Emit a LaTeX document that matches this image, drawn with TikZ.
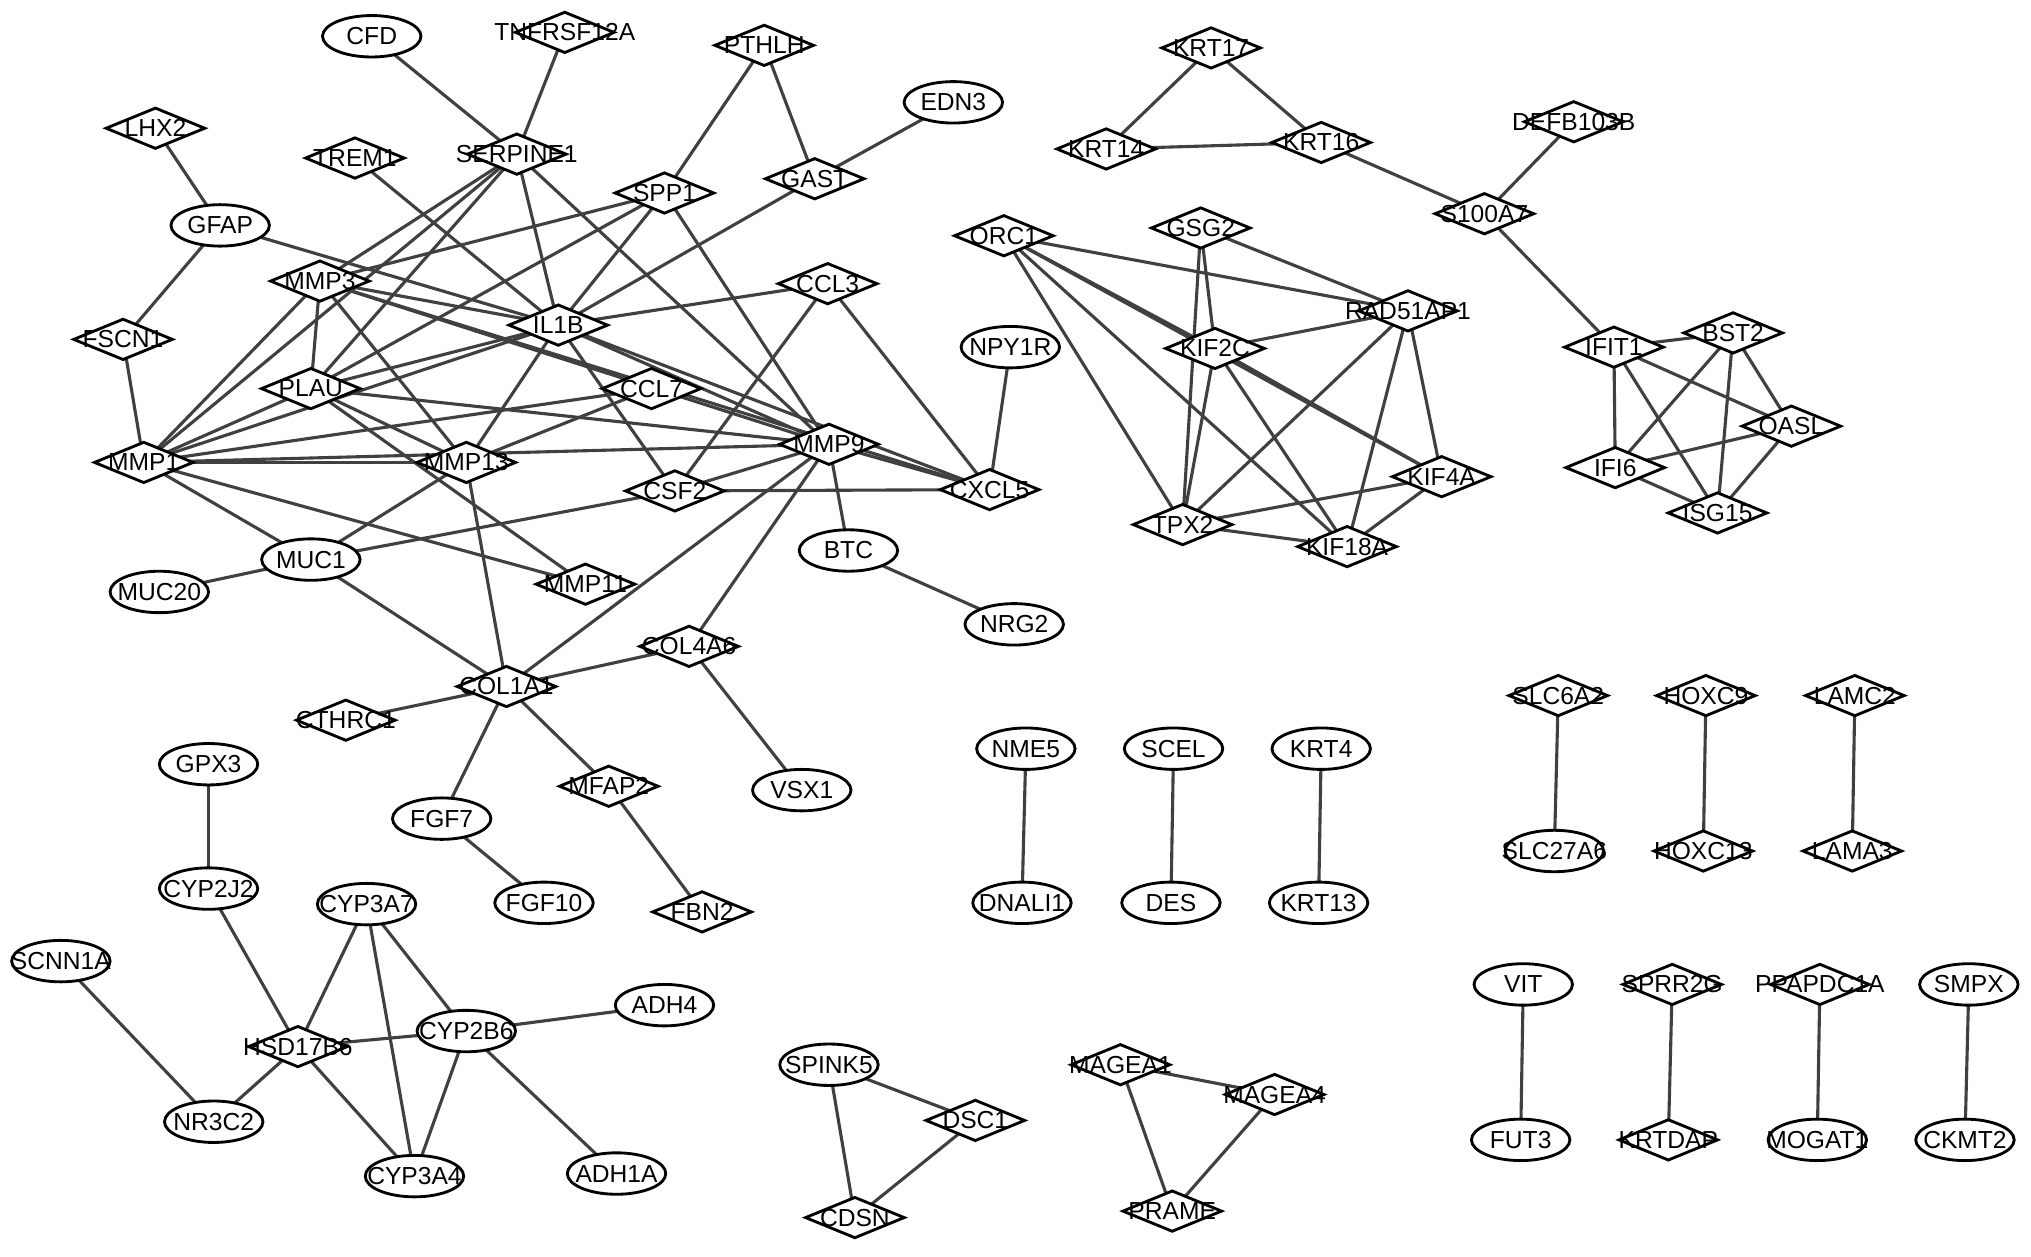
\documentclass[tikz,border=0pt]{standalone}
\usepackage{fontspec}
\setmainfont{Liberation Sans}
\usetikzlibrary{shapes.geometric}
\definecolor{edgegray}{HTML}{404040}
\pgfdeclarelayer{bg}
\pgfsetlayers{bg,main}
\begin{document}
\begin{tikzpicture}[x=1pt,y=-1pt,
  dia/.style={draw=black, fill=white, line width=2.2pt, shape=diamond, inner sep=0pt, minimum width=77pt, minimum height=32pt},
  ell/.style={draw=black, fill=white, line width=2.2pt, shape=ellipse, inner sep=0pt, minimum width=76pt, minimum height=32pt},
  every label/.style={font=\fontsize{19}{21}\selectfont, inner sep=0pt, text=black},
  edge/.style={draw=edgegray, line width=2.4pt}]
\useasboundingbox (0,0) rectangle (1568,970);
% diamonds
\foreach \n/\x/\y in {TNFRSF12A/436/25, PTHLH/590/35, LHX2/120/99, TREM1/274/122, SERPINE1/399/119,
  SPP1/513/149, GAST/629/138, MMP3/247/217, CCL3/639/219, IL1B/431/251, FSCN1/95/262, PLAU/240/300,
  CCL7/503/300, MMP1/111/357, MMP13/360/357, MMP9/640/343, CSF2/521/379, CXCL5/764/378, MMP11/452/451,
  COL4A6/532/499, COL1A1/391/530, CTHRC1/267/556, MFAP2/470/607, FBN2/542/704, HSD17B6/230/808,
  KRT17/935/37, KRT14/854/115, KRT16/1020/110, DEFB103B/1215/94, S100A7/1146/165, ORC1/775/182,
  GSG2/927/176, RAD51AP1/1087/240, KIF2C/938/269, IFIT1/1246/268, BST2/1338/257, OASL/1383/329,
  IFI6/1247/361, ISG15/1326/396, KIF4A/1113/368, TPX2/913/405, KIF18A/1040/422, SLC6A2/1203/537,
  HOXC9/1317/537, LAMC2/1432/537, HOXC13/1315/657, LAMA3/1430/657, SPRR2G/1291/760, PPAPDC1A/1405/760,
  KRTDAP/1288/880, DSC1/753/865, CDSN/660/940, MAGEA1/865/822, MAGEA4/984/845, PRAME/905/935}
  {\node[dia, label=center:\n] (\n) at (\x,\y) {};}
% ellipses
\foreach \n/\x/\y in {CFD/287/28, EDN3/736/79, GFAP/170/174, NPY1R/780/268, BTC/655/425, MUC1/240/432,
  MUC20/123/457, NRG2/783/482, GPX3/161/590, VSX1/619/610, FGF7/341/632, CYP2J2/161/686, FGF10/420/697,
  CYP3A7/283/698, SCNN1A/47/742, ADH4/513/776, CYP2B6/360/796, NR3C2/165/866, CYP3A4/320/908,
  ADH1A/476/906, NME5/792/578, SCEL/906/578, KRT4/1020/578, DNALI1/789/697, DES/904/697, KRT13/1018/697,
  SPINK5/640/822, SLC27A6/1200/657, VIT/1176/760, FUT3/1174/880, MOGAT1/1403/880, SMPX/1520/760,
  CKMT2/1517/880}
  {\node[ell, label=center:\n] (\n) at (\x,\y) {};}
\begin{pgfonlayer}{bg}
\fill[white] (0,0) rectangle (1568,970);
\foreach \a/\b in {CFD/SERPINE1, TNFRSF12A/SERPINE1, PTHLH/SPP1, PTHLH/GAST, GAST/EDN3, GAST/IL1B,
  LHX2/GFAP, GFAP/FSCN1, GFAP/IL1B, FSCN1/MMP1, TREM1/IL1B,
  SERPINE1/MMP3, SERPINE1/MMP1, SERPINE1/PLAU, SERPINE1/IL1B, SERPINE1/MMP9,
  SPP1/MMP3, SPP1/PLAU, SPP1/IL1B, SPP1/MMP9,
  MMP3/MMP1, MMP3/PLAU, MMP3/IL1B, MMP3/MMP13, MMP3/MMP9, MMP3/CXCL5,
  IL1B/CCL3, IL1B/PLAU, IL1B/MMP1, IL1B/MMP13, IL1B/CSF2, IL1B/MMP9, IL1B/CXCL5,
  CCL3/CSF2, CCL3/CXCL5, CCL7/MMP1, CCL7/MMP13,
  PLAU/MMP1, PLAU/MMP13, PLAU/MMP11, PLAU/MMP9,
  MMP1/MMP13, MMP1/MMP9, MMP1/MUC1, MMP1/MMP11,
  MMP13/MUC1, MMP13/COL1A1,
  MMP9/CSF2, MMP9/CXCL5, MMP9/BTC, MMP9/COL4A6, MMP9/COL1A1,
  CSF2/CXCL5, CSF2/MUC1, MUC1/MUC20, MUC1/COL1A1,
  COL1A1/COL4A6, COL1A1/CTHRC1, COL1A1/FGF7, COL1A1/MFAP2,
  COL4A6/VSX1, BTC/NRG2, NPY1R/CXCL5, MFAP2/FBN2, FGF7/FGF10,
  GPX3/CYP2J2, CYP2J2/HSD17B6, SCNN1A/NR3C2, NR3C2/HSD17B6, HSD17B6/CYP3A7, HSD17B6/CYP2B6,
  HSD17B6/CYP3A4, CYP3A7/CYP3A4, CYP3A7/CYP2B6, CYP2B6/CYP3A4, CYP2B6/ADH4, CYP2B6/ADH1A,
  KRT17/KRT14, KRT17/KRT16, KRT14/KRT16, KRT16/S100A7, DEFB103B/S100A7, S100A7/IFIT1,
  IFIT1/BST2, IFIT1/IFI6, IFIT1/OASL, IFIT1/ISG15, BST2/IFI6, BST2/ISG15, BST2/OASL,
  OASL/IFI6, OASL/ISG15, IFI6/ISG15,
  ORC1/RAD51AP1, ORC1/KIF2C, ORC1/KIF4A, ORC1/TPX2, ORC1/KIF18A,
  GSG2/RAD51AP1, GSG2/KIF2C, GSG2/TPX2,
  KIF2C/RAD51AP1, KIF2C/TPX2, KIF2C/KIF18A, KIF2C/KIF4A,
  RAD51AP1/TPX2, RAD51AP1/KIF18A, RAD51AP1/KIF4A,
  KIF4A/TPX2, KIF4A/KIF18A, TPX2/KIF18A,
  NME5/DNALI1, SCEL/DES, KRT4/KRT13, SPINK5/DSC1, SPINK5/CDSN, DSC1/CDSN,
  MAGEA1/MAGEA4, MAGEA1/PRAME, MAGEA4/PRAME, SLC6A2/SLC27A6, HOXC9/HOXC13, LAMC2/LAMA3,
  VIT/FUT3, SPRR2G/KRTDAP, PPAPDC1A/MOGAT1, SMPX/CKMT2}
  {\draw[edge] (\a.center) -- (\b.center);}
\end{pgfonlayer}
\end{tikzpicture}
\end{document}
